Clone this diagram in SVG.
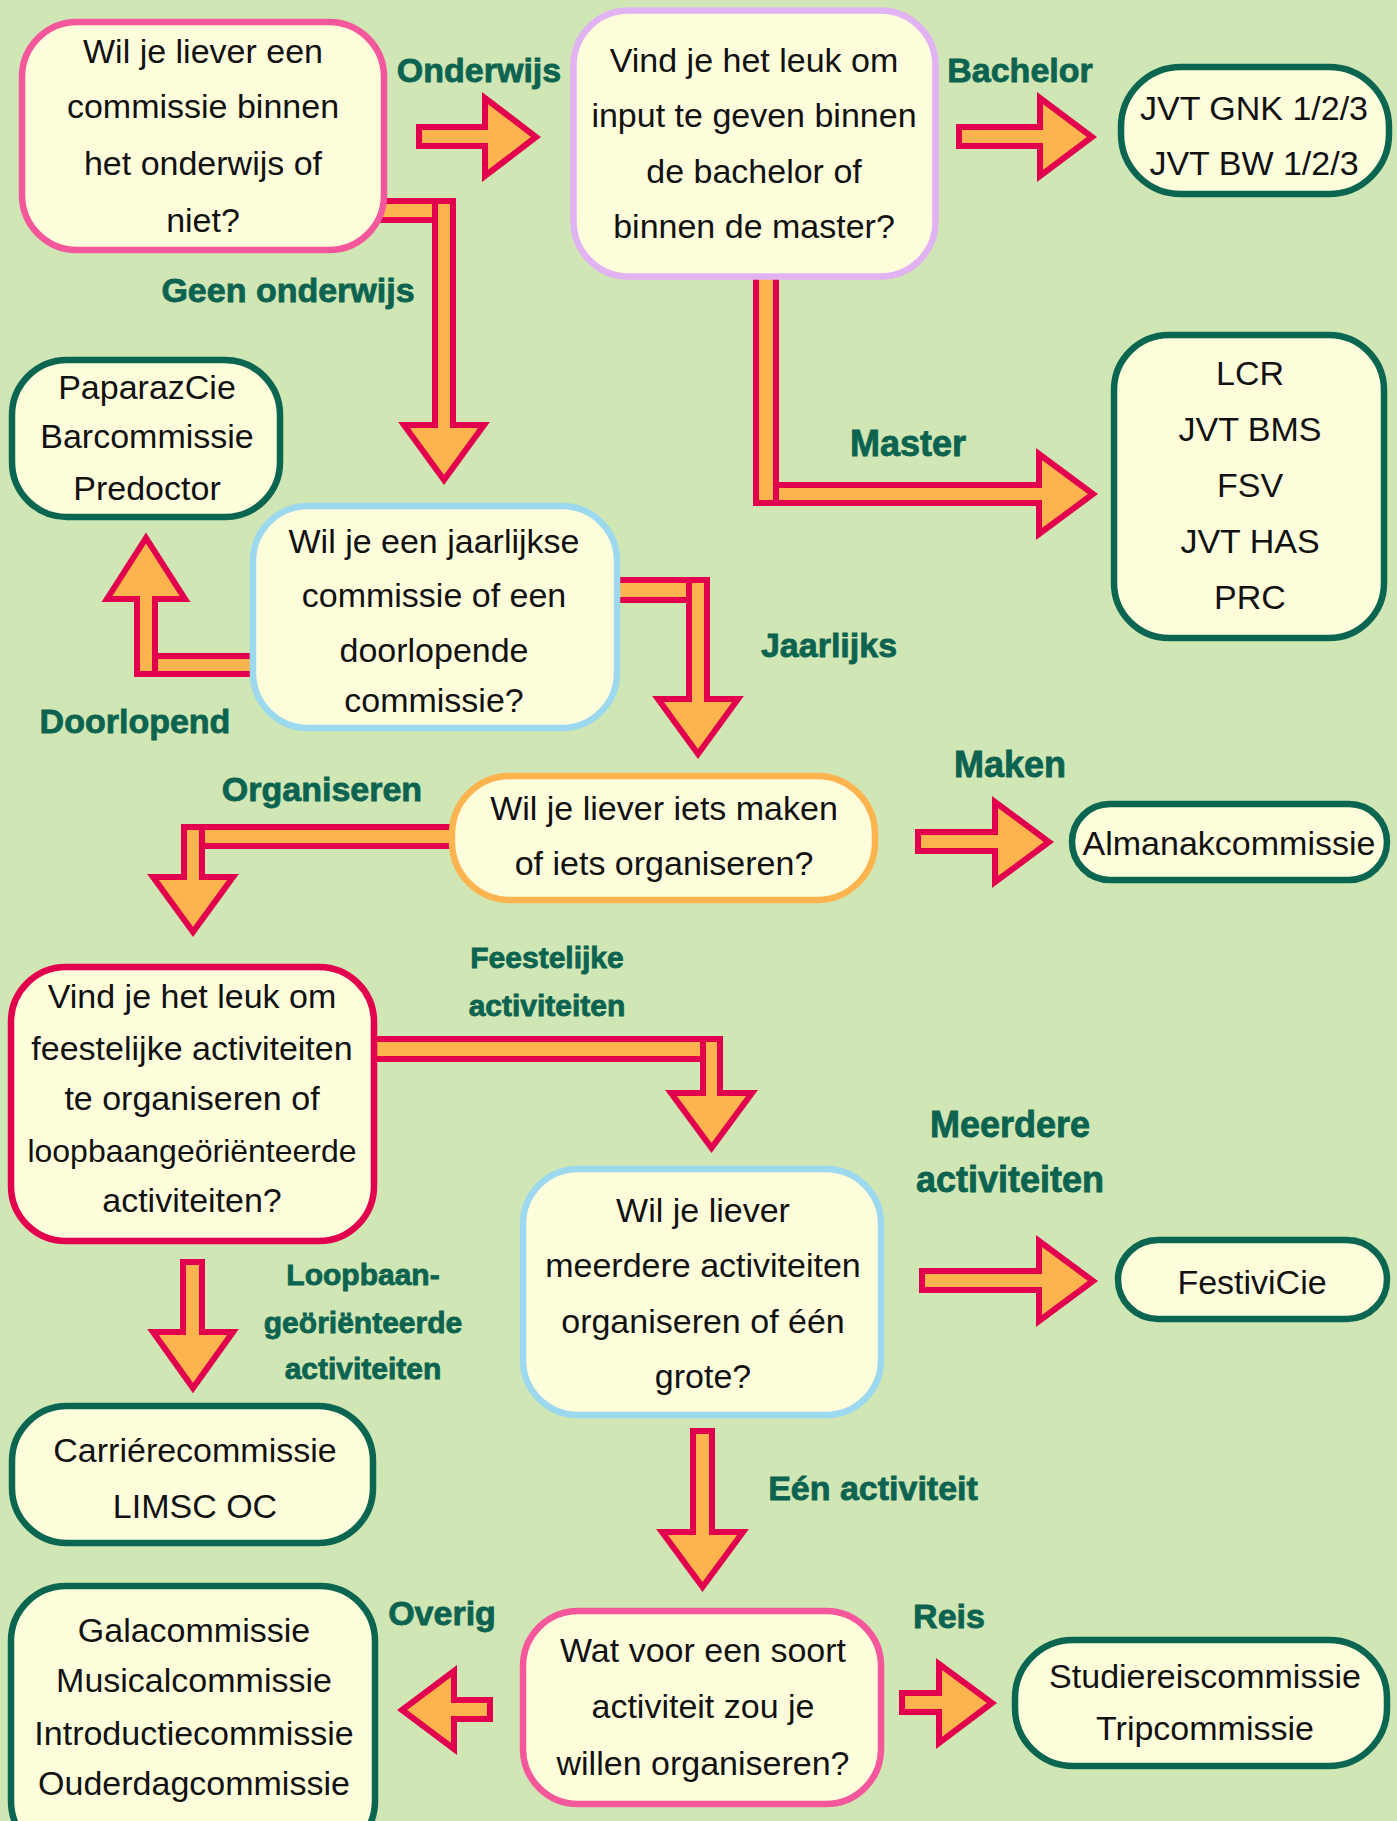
<svg xmlns="http://www.w3.org/2000/svg" width="1397" height="1821" viewBox="0 0 1397 1821">
<style>
.node rect{fill:#FDFDDC;stroke-width:6.5}
.pink rect{stroke:#F4579B}
.lav rect{stroke:#E2B3F2}
.green rect{stroke:#0B6651}
.blue rect{stroke:#9DD9EE}
.orange rect{stroke:#FDB44F}
.red rect{stroke:#E2004E}
.node text{font-family:"Liberation Sans",Arial,sans-serif;font-size:34px;fill:#111;text-anchor:middle}
.lbl{font-family:"Liberation Sans",Arial,sans-serif;font-weight:bold;font-size:34px;fill:#0B6350;text-anchor:middle;stroke:#0B6350;stroke-width:0.8}
.sm{font-size:30px}
.lg{font-size:36px}
.arr{fill:#FDB44F;stroke:#E2004E;stroke-width:6;stroke-linejoin:miter;stroke-miterlimit:10}
</style>
<rect width="1397" height="1821" fill="#D0E6B4"/>

<g id="connectors">
  <polygon class="arr" points="419,127 485,127 485,98 536,137 485,176 485,146 419,146"/>
  <polygon class="arr" points="959,127 1040,127 1040,98 1092,137 1040,176 1040,146 959,146"/>
  <rect class="arr" x="380" y="201" width="73" height="19"/>
  <polygon class="arr" points="435,201 453,201 453,425 484,425 444,480 404,425 435,425"/>
  <polygon class="arr" points="756,485 1039,485 1039,454 1093,494 1039,534 1039,503 756,503"/>
  <rect class="arr" x="756" y="270" width="20" height="233"/>
  <rect class="arr" x="137" y="656" width="121" height="18"/>
  <polygon class="arr" points="137,674 155,674 155,599 185,599 146,538 107,599 137,599"/>
  <rect class="arr" x="612" y="580" width="95" height="20"/>
  <polygon class="arr" points="689,580 707,580 707,699 738,699 698,754 658,699 689,699"/>
  <rect class="arr" x="184" y="827" width="271" height="19"/>
  <polygon class="arr" points="184,827 202,827 202,877 233,877 193,932 153,877 184,877"/>
  <polygon class="arr" points="918,832 995,832 995,802 1049,842 995,882 995,851 918,851"/>
  <rect class="arr" x="372" y="1039" width="348" height="20"/>
  <polygon class="arr" points="703,1039 720,1039 720,1093 752,1093 711.5,1148 671,1093 703,1093"/>
  <polygon class="arr" points="922,1271 1039,1271 1039,1241 1093,1281 1039,1321 1039,1290 922,1290"/>
  <polygon class="arr" points="183,1262 202,1262 202,1332 233,1332 193,1388 153,1332 183,1332"/>
  <polygon class="arr" points="693,1431 712,1431 712,1532 743,1532 702.5,1587 662,1532 693,1532"/>
  <polygon class="arr" points="490,1700 454,1700 454,1671 402,1710 454,1749 454,1719 490,1719"/>
  <polygon class="arr" points="902,1693 939,1693 939,1664 992,1703 939,1743 939,1712 902,1712"/>
</g>

<g id="labels">
  <text class="lbl" x="479" y="82">Onderwijs</text>
  <text class="lbl" x="1020" y="82">Bachelor</text>
  <text class="lbl" x="288" y="302">Geen onderwijs</text>
  <text class="lbl lg" x="908" y="456">Master</text>
  <text class="lbl" x="829" y="657">Jaarlijks</text>
  <text class="lbl" x="135" y="733">Doorlopend</text>
  <text class="lbl" x="322" y="801">Organiseren</text>
  <text class="lbl lg" x="1010" y="777">Maken</text>
  <text class="lbl sm" x="547" y="968">Feestelijke</text>
  <text class="lbl sm" x="547" y="1016">activiteiten</text>
  <text class="lbl lg" x="1010" y="1137">Meerdere</text>
  <text class="lbl lg" x="1010" y="1192">activiteiten</text>
  <text class="lbl sm" x="363" y="1285">Loopbaan-</text>
  <text class="lbl sm" x="363" y="1333">geöriënteerde</text>
  <text class="lbl sm" x="363" y="1379">activiteiten</text>
  <text class="lbl" x="873" y="1500">Eén activiteit</text>
  <text class="lbl" x="442" y="1625">Overig</text>
  <text class="lbl" x="949" y="1628">Reis</text>
</g>

<g id="n1" class="node pink">
  <rect x="22" y="22" width="362" height="228" rx="55"/>
  <text x="203" y="63">Wil je liever een</text>
  <text x="203" y="118">commissie binnen</text>
  <text x="203" y="175">het onderwijs of</text>
  <text x="203" y="232">niet?</text>
</g>
<g id="n2" class="node lav">
  <rect x="573.5" y="10.5" width="362" height="266" rx="55"/>
  <text x="754" y="72">Vind je het leuk om</text>
  <text x="754" y="127">input te geven binnen</text>
  <text x="754" y="183">de bachelor of</text>
  <text x="754" y="238">binnen de master?</text>
</g>
<g id="n3" class="node green">
  <rect x="1121" y="67" width="268" height="127" rx="60"/>
  <text x="1254" y="120">JVT GNK 1/2/3</text>
  <text x="1254" y="175">JVT BW 1/2/3</text>
</g>
<g id="n4" class="node green">
  <rect x="12" y="360" width="268" height="157" rx="55"/>
  <text x="147" y="399">PaparazCie</text>
  <text x="147" y="448">Barcommissie</text>
  <text x="147" y="500">Predoctor</text>
</g>
<g id="n5" class="node green">
  <rect x="1114" y="335" width="270" height="303" rx="55"/>
  <text x="1250" y="385">LCR</text>
  <text x="1250" y="441">JVT BMS</text>
  <text x="1250" y="497">FSV</text>
  <text x="1250" y="553">JVT HAS</text>
  <text x="1250" y="609">PRC</text>
</g>
<g id="n6" class="node blue">
  <rect x="253" y="506" width="364" height="222" rx="55"/>
  <text x="434" y="553">Wil je een jaarlijkse</text>
  <text x="434" y="607">commissie of een</text>
  <text x="434" y="662">doorlopende</text>
  <text x="434" y="712">commissie?</text>
</g>
<g id="n7" class="node orange">
  <rect x="452" y="776" width="423" height="124" rx="58"/>
  <text x="664" y="820">Wil je liever iets maken</text>
  <text x="664" y="875">of iets organiseren?</text>
</g>
<g id="n8" class="node green">
  <rect x="1072" y="804" width="315" height="76" rx="38"/>
  <text x="1229" y="855">Almanakcommissie</text>
</g>
<g id="n9" class="node red">
  <rect x="11" y="967" width="363" height="274" rx="55"/>
  <text x="192" y="1008">Vind je het leuk om</text>
  <text x="192" y="1060">feestelijke activiteiten</text>
  <text x="192" y="1110">te organiseren of</text>
  <text x="192" y="1162" style="font-size:32px">loopbaangeöriënteerde</text>
  <text x="192" y="1212">activiteiten?</text>
</g>
<g id="n10" class="node blue">
  <rect x="523" y="1169" width="358" height="246" rx="55"/>
  <text x="703" y="1222">Wil je liever</text>
  <text x="703" y="1277">meerdere activiteiten</text>
  <text x="703" y="1333">organiseren of één</text>
  <text x="703" y="1388">grote?</text>
</g>
<g id="n11" class="node green">
  <rect x="1118" y="1240" width="269" height="79" rx="40"/>
  <text x="1252" y="1294">FestiviCie</text>
</g>
<g id="n12" class="node green">
  <rect x="12" y="1406" width="361" height="137" rx="55"/>
  <text x="195" y="1462">Carriérecommissie</text>
  <text x="195" y="1518">LIMSC OC</text>
</g>
<g id="n13" class="node green">
  <rect x="11" y="1586" width="364" height="270" rx="55"/>
  <text x="194" y="1642">Galacommissie</text>
  <text x="194" y="1692">Musicalcommissie</text>
  <text x="194" y="1745">Introductiecommissie</text>
  <text x="194" y="1795">Ouderdagcommissie</text>
</g>
<g id="n14" class="node pink">
  <rect x="523" y="1611" width="358" height="193" rx="55"/>
  <text x="703" y="1662">Wat voor een soort</text>
  <text x="703" y="1718">activiteit zou je</text>
  <text x="703" y="1775">willen organiseren?</text>
</g>
<g id="n15" class="node green">
  <rect x="1015" y="1640" width="372" height="126" rx="58"/>
  <text x="1205" y="1688">Studiereiscommissie</text>
  <text x="1205" y="1740">Tripcommissie</text>
</g>
</svg>
